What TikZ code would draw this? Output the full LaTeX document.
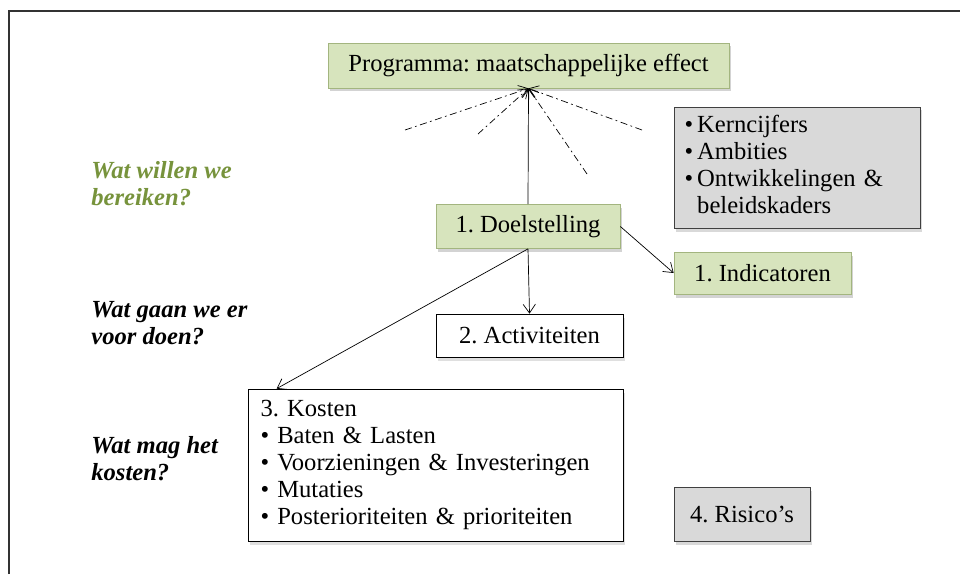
\documentclass[tikz,border=0pt]{standalone}
\usepackage{fontspec}
\setmainfont{Liberation Serif}
\usetikzlibrary{arrows.meta,shadows,calc}
\definecolor{olivefill}{HTML}{D7E4BD}
\definecolor{oliveline}{HTML}{A3B57F}
\definecolor{olivetext}{HTML}{77933C}
\definecolor{greyfill}{HTML}{D9D9D9}
\frenchspacing
\begin{document}
\begin{tikzpicture}[>={Straight Barb[length=5pt,width=7pt]},
  every node/.style={font=\fontsize{14}{15.4}\selectfont},
  greenbox/.style={draw=oliveline, fill=olivefill, minimum height=0.88cm, inner sep=0pt,
    drop shadow={opacity=0.35, shadow xshift=0.04cm, shadow yshift=-0.07cm}},
  whitebox/.style={draw=black, fill=white, minimum height=0.86cm, inner sep=0pt,
    drop shadow={opacity=0.25, shadow xshift=0.04cm, shadow yshift=-0.07cm}},
  greybox/.style={draw=black!75, fill=greyfill, inner sep=0pt,
    drop shadow={opacity=0.3, shadow xshift=0.04cm, shadow yshift=-0.07cm}},
  question/.style={anchor=west, align=left, inner sep=0pt, font=\fontsize{14}{15.4}\selectfont\bfseries\itshape},
  dashdot/.style={->, dash pattern=on 4pt off 2pt on 1pt off 2pt, thin}]
\useasboundingbox (0,0) rectangle (19.2,11.48);
\draw[line width=1pt, black!80](0.18,0)--(0.18,11.26)--(19.2,11.26);

\node[greenbox, minimum width=8.02cm, minimum height=0.9cm](prog) at (10.57,10.17){Programma: maatschappelijke effect};
\node[greenbox, minimum width=3.68cm](doel) at (10.56,6.95){1. Doelstelling};
\node[greenbox, minimum width=3.54cm, minimum height=0.84cm](ind) at (15.25,6.02){1. Indicatoren};
\node[whitebox, minimum width=3.74cm](act) at (10.59,4.77){2. Activiteiten};
\node[whitebox, minimum width=7.5cm, minimum height=3.04cm, align=left, text width=7.0cm](kosten) at (8.71,2.18){3. Kosten\\
  \textbullet\ Baten \& Lasten\\
  \textbullet\ Voorzieningen \& Investeringen\\
  \textbullet\ Mutaties\\
  \textbullet\ Posterioriteiten \& prioriteiten};
\node[greybox, minimum width=2.72cm, minimum height=1.08cm](ris) at (14.84,1.2){4. Risico's};
\node[greybox, minimum width=4.92cm, minimum height=2.42cm, align=left, text width=4.5cm](kern) at (15.94,8.13){%
  \begin{tabular}{@{}l@{\,}l@{}}
  \textbullet & Kerncijfers\\
  \textbullet & Ambities\\
  \textbullet & Ontwikkelingen \&\\
   & beleidskaders
  \end{tabular}};

\node[question, text=olivetext](q1) at (1.82,7.81){Wat willen we\\bereiken?};
\node[question](q2) at (1.82,5.01){Wat gaan we er\\voor doen?};
\node[question](q3) at (1.82,2.31){Wat mag het\\kosten?};

% lijnen
\coordinate (d1) at (8.1,8.88);
\coordinate (d2) at (9.56,8.8);
\coordinate (d3) at (11.74,8.0);
\coordinate (d4) at (12.84,8.88);
\foreach \d in {d1,d2,d3,d4}
  \draw[dashdot](\d)--(prog.south);
\draw[->](doel.north)--(prog.south);
\draw[->](doel.east)--(ind.west);
\draw[->](doel.south)--(act.north);
\draw[->](doel.south)--($(kosten.north west)+(0.58,0)$);

\end{tikzpicture}
\end{document}
